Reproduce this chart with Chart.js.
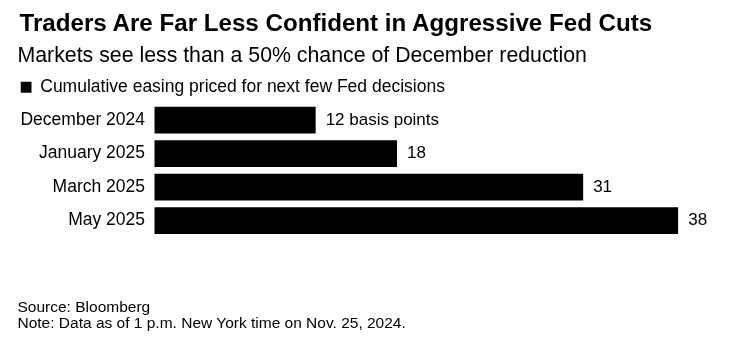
<!DOCTYPE html>
<html>
<head>
<meta charset="utf-8">
<script src="https://cdn.jsdelivr.net/npm/chart.js@4/dist/chart.umd.min.js"></script>
<style>
  body { margin: 0; background: #fff; }
  #wrap { position: relative; width: 748px; height: 348px; font-family: "Liberation Sans", Arial, sans-serif; color: #000; }
  #wrap canvas { position: absolute; left: 0; top: 0; }
  .txt { position: absolute; white-space: nowrap; }
  #title { left: 19.5px; top: 11.1px; font-size: 24.15px; line-height: 24px; font-weight: bold; }
  #subtitle { left: 17.5px; top: 45px; font-size: 21.3px; line-height: 21px; }
  #footer { left: 17.5px; top: 298.7px; font-size: 15.5px; line-height: 16.5px; }
</style>
</head>
<body>
<div id="wrap">
  <canvas id="myChart" width="748" height="348"></canvas>
  <div class="txt" id="title">Traders Are Far Less Confident in Aggressive Fed Cuts</div>
  <div class="txt" id="subtitle">Markets see less than a 50% chance of December reduction</div>
  <div class="txt" id="footer">Source: Bloomberg<br>Note: Data as of 1 p.m. New York time on Nov. 25, 2024.</div>
</div>
<script>
const meetings = ["December 2024", "January 2025", "March 2025", "May 2025"];
const easingBps = [11.7, 17.6, 31.1, 38];
const seriesName = "Cumulative easing priced for next few Fed decisions";
const firstLabelSuffix = " basis points";

const fontFamily = '"Liberation Sans", Arial, sans-serif';

//--VALUE LABELS----------------------------------------------------------------
const valueLabels = {
  id: "valueLabels",
  afterDatasetsDraw(chart) {
    const ctx = chart.ctx;
    const meta = chart.getDatasetMeta(0);
    ctx.save();
    ctx.font = "17px " + fontFamily;
    ctx.fillStyle = "#000";
    ctx.textAlign = "left";
    ctx.textBaseline = "middle";
    meta.data.forEach((bar, i) => {
      let txt = String(Math.round(easingBps[i]));
      if (i === 0) txt += firstLabelSuffix;
      ctx.fillText(txt, bar.x + 10, bar.y);
    });
    ctx.restore();
  },
};

//--CHART-----------------------------------------------------------------------
const ctx = document.getElementById("myChart").getContext("2d");
const myChart = new Chart(ctx, {
  type: "bar",
  data: {
    labels: meetings,
    datasets: [
      {
        label: seriesName,
        data: easingBps,
        backgroundColor: "#000",
        borderWidth: 0,
        categoryPercentage: 1,
        barPercentage: 0.8,
      },
    ],
  },
  options: {
    indexAxis: "y",
    responsive: false,
    animation: false,
    layout: { padding: { left: 20.5, right: 69.7, top: 78.45, bottom: 110.7 } },
    plugins: {
      legend: {
        position: "top",
        align: "start",
        maxHeight: 24.85,
        labels: {
          boxWidth: 11,
          boxHeight: 11,
          padding: 0,
          color: "#000",
          font: { family: fontFamily, size: 17.5 },
        },
      },
      tooltip: { enabled: false },
    },
    scales: {
      x: { display: false, min: 0, max: 38 },
      y: {
        afterFit(scale) {
          scale.width = 133.8;
        },
        grid: { display: false, drawTicks: false },
        border: { display: false },
        ticks: {
          padding: 9.3,
          color: "#000",
          font: { family: fontFamily, size: 17.5 },
        },
      },
    },
  },
  plugins: [valueLabels],
});
</script>
</body>
</html>
